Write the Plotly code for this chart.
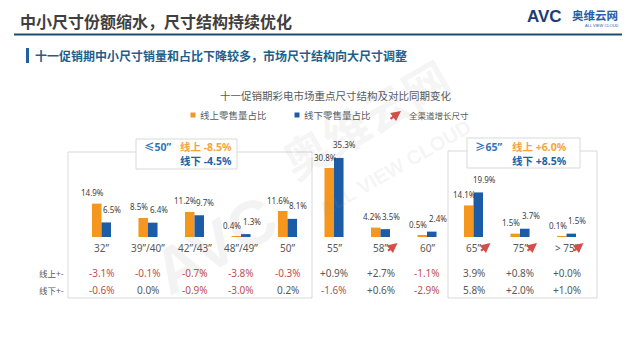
import plotly.graph_objects as go

W, H = 636, 337

# ---------------- data ----------------
categories = ["32”", "39”/40”", "42”/43”", "48”/49”", "50”", "55”", "58”", "60”", "65”", "75”", "> 75”"]
online_share = [14.9, 8.5, 11.2, 0.4, 11.6, 30.8, 4.2, 0.5, 14.1, 1.5, 0.1]
offline_share = [6.5, 6.4, 9.7, 1.3, 8.1, 35.3, 3.5, 2.4, 19.9, 3.7, 1.5]
online_change = ["-3.1%", "-0.1%", "-0.7%", "-3.8%", "-0.3%", "+0.9%", "+2.7%", "-1.1%", "3.9%", "+0.8%", "+0.0%"]
offline_change = ["-0.6%", "0.0%", "-0.9%", "-3.0%", "0.2%", "-1.6%", "+0.6%", "-2.9%", "5.8%", "+2.0%", "+1.0%"]
growth_sizes = ["58”", "65”", "75”", "> 75”"]
small_group = ["≤50”", "-8.5%", "-4.5%"]
large_group = ["≥65”", "+6.0%", "+8.5%"]

title = "中小尺寸份额缩水，尺寸结构持续优化"
subtitle = "十一促销期中小尺寸销量和占比下降较多，市场尺寸结构向大尺寸调整"
chart_title = "十一促销期彩电市场重点尺寸结构及对比同期变化"
legend_names = ["线上零售量占比", "线下零售量占比", "全渠道增长尺寸"]
row_names = ["线上+-", "线下+-"]

# ---------------- style ----------------
FONT = "Noto Sans CJK SC"
NUMFONT = "Noto Sans, Noto Sans CJK SC"
ORANGE = "#F5961E"
BLUE = "#1C5CA6"
RED = "#C0504D"
GRAY = "#595959"
ARROW = "#D24F4A"
BOX = "#D9D9D9"

X0_PX, STEP = 101.5, 46.5      # pixel of first category, pixels per category
BASE_PX, PPP = 237, 2.24       # baseline pixel, pixels per percent
BAR_W = 0.205


def P(x, y):
    return x / W, 1 - y / H


def yd(py):
    return (BASE_PX - py) / PPP


n = len(categories)
xs = list(range(n))

fig = go.Figure()
fig.add_trace(go.Bar(x=xs, y=online_share, width=BAR_W, offset=-BAR_W,
                     marker=dict(color=ORANGE, line=dict(width=0)), hoverinfo="skip"))
fig.add_trace(go.Bar(x=xs, y=offline_share, width=BAR_W, offset=0,
                     marker=dict(color=BLUE, line=dict(width=0)), hoverinfo="skip"))

ann = []
shapes = []


def txt(x, y, s, size, color, anchor="center", bold=False, family=FONT, **kw):
    px, py = P(x, y)
    ann.append(dict(x=px, y=py, xref="paper", yref="paper", text=f"<b>{s}</b>" if bold else s,
                    showarrow=False, xanchor=anchor, yanchor="middle",
                    font=dict(family=family, size=size, color=color), **kw))


def rect(x0, y0, x1, y1, line=BOX, fill="rgba(0,0,0,0)", width=1):
    a, b = P(x0, y0)
    c, d = P(x1, y1)
    shapes.append(dict(type="rect", xref="paper", yref="paper", x0=a, y0=b, x1=c, y1=d,
                       line=dict(color=line, width=width), fillcolor=fill, layer="below"))


# watermark
WM = "rgba(150,150,150,0.11)"
txt(215, 245, "AVC", 64, WM, bold=True, textangle=-30, family="Liberation Sans")
txt(365, 118, "奥维云网", 46, WM, bold=True, textangle=-30)
txt(395, 168, "ALL VIEW CLOUD", 20, WM, bold=True, textangle=-30, family="Liberation Sans")

# header
txt(18, 21, title, 16, "#3F3F3F", anchor="left", bold=True)
a, b = P(14, 34.5)
c, d = P(622, 34.5)
shapes.append(dict(type="line", xref="paper", yref="paper", x0=a, y0=b, x1=c, y1=d,
                   line=dict(color="#1F4E6B", width=2)))
txt(525, 17, "AVC", 17, "#1B3C78", anchor="left", bold=True, family="Liberation Sans")
txt(570, 15, "奥维云网", 11.5, "#2B5CA8", anchor="left", bold=True)
txt(583, 25, "ALL VIEW CLOUD", 4, "#2B5CA8", anchor="left", family="Liberation Sans")
rect(26, 48, 29, 63, line="#2060A0", fill="#2060A0", width=0)
txt(33, 56, subtitle, 12, "#1F5F8B", anchor="left", bold=True)

txt(335, 95, chart_title, 10.5, GRAY)

# legend
rect(190.5, 112.5, 195.5, 117.5, line=ORANGE, fill=ORANGE, width=0)
txt(198, 115, legend_names[0], 9.5, GRAY, anchor="left")
rect(294.5, 112.5, 299.5, 117.5, line=BLUE, fill=BLUE, width=0)
txt(302, 115, legend_names[1], 9.5, GRAY, anchor="left")
la, lb = P(401, 111)
ann.append(dict(x=la, y=lb, xref="paper", yref="paper", text="", showarrow=True,
                ax=-12, ay=9, arrowhead=2, arrowsize=0.9, arrowwidth=2.2, arrowcolor=ARROW))
txt(407, 115, legend_names[2], 8.5, GRAY, anchor="left")

# group boxes
rect(68, 152, 312, 298)
rect(448, 151, 597, 298)
rect(136, 139, 237, 169, fill="white")
rect(467, 138, 580, 168, fill="white")
txt(142, 147, small_group[0], 10.5, "#2E75B6", anchor="left", bold=True, family=NUMFONT)
txt(178, 147, "线上 " + small_group[1], 10.5, "#F4A53A", anchor="left", bold=True, family=NUMFONT)
txt(178, 161, "线下 " + small_group[2], 10.5, "#1F5FA6", anchor="left", bold=True, family=NUMFONT)
txt(473, 147, large_group[0], 10.5, "#2E75B6", anchor="left", bold=True, family=NUMFONT)
txt(510, 147, "线上 " + large_group[1], 10.5, "#F4A53A", anchor="left", bold=True, family=NUMFONT)
txt(510, 161, "线下 " + large_group[2], 10.5, "#1F5FA6", anchor="left", bold=True, family=NUMFONT)

# data labels, category labels, arrows, change table
for i in xs:
    ann.append(dict(x=i - BAR_W / 2, y=online_share[i], xref="x", yref="y", text=f"{online_share[i]:.1f}%",
                    showarrow=False, xanchor="center", yanchor="middle", xshift=-4, yshift=11,
                    font=dict(family=NUMFONT, size=8, color="#404040")))
    ann.append(dict(x=i + BAR_W / 2, y=offline_share[i], xref="x", yref="y", text=f"{offline_share[i]:.1f}%",
                    showarrow=False, xanchor="center", yanchor="middle", xshift=6, yshift=13,
                    font=dict(family=NUMFONT, size=8, color="#404040")))
    ann.append(dict(x=i, y=yd(248), xref="x", yref="y", text=categories[i], showarrow=False,
                    xanchor="center", yanchor="middle", font=dict(family=NUMFONT, size=10, color=GRAY)))
    if categories[i] in growth_sizes:
        ann.append(dict(x=i, y=yd(243), xref="x", yref="y", text="", showarrow=True, xshift=17,
                        ax=-11, ay=9, arrowhead=2, arrowsize=0.9, arrowwidth=2.2, arrowcolor=ARROW))
    for row, vals, py in ((0, online_change, 272.5), (1, offline_change, 290)):
        s = vals[i]
        ann.append(dict(x=i, y=yd(py), xref="x", yref="y", text=s, showarrow=False,
                        xanchor="center", yanchor="middle",
                        font=dict(family=NUMFONT, size=10, color=RED if s.startswith("-") else GRAY)))

txt(66, 272.5, row_names[0], 8.5, GRAY, anchor="right")
txt(66, 290, row_names[1], 8.5, GRAY, anchor="right")

fig.update_layout(
    width=W, height=H, margin=dict(l=0, r=0, t=0, b=0),
    paper_bgcolor="white", plot_bgcolor="white",
    barmode="overlay", showlegend=False,
    xaxis=dict(range=[-X0_PX / STEP, (W - X0_PX) / STEP], visible=False, fixedrange=True),
    yaxis=dict(range=[-(H - BASE_PX) / PPP, BASE_PX / PPP], visible=False, fixedrange=True),
    annotations=ann, shapes=shapes,
)
fig.write_html("out.html", config={"displayModeBar": False})
